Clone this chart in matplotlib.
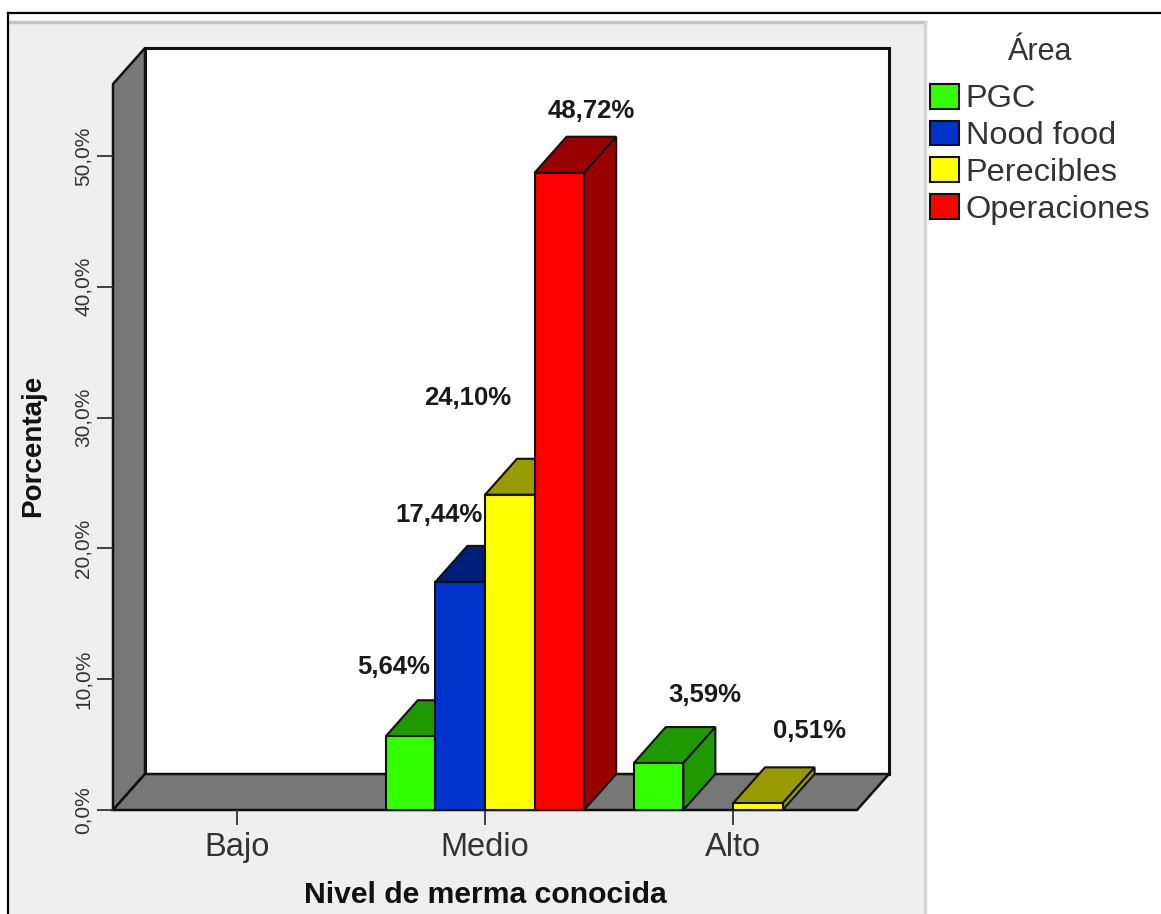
#!/usr/bin/python3

import matplotlib
matplotlib.use("Agg")
import matplotlib.pyplot as plt
from matplotlib.patches import Patch, Polygon, Rectangle

plt.rcParams['font.family'] = ['Liberation Sans', 'DejaVu Sans']

niveles = ["Bajo", "Medio", "Alto"]
areas = ["PGC", "Nood food", "Perecibles", "Operaciones"]
ticks_pct = [0, 10, 20, 30, 40, 50]
tick_labels = ["0,0%", "10,0%", "20,0%", "30,0%", "40,0%", "50,0%"]

pgc = [0, 5.64, 3.59]
nood_food = [0, 17.44, 0]
perecibles = [0, 24.10, 0.51]
operaciones = [0, 48.72, 0]

# label shift in pixels from the top centre of each bar
label_shift = {
    (0, 1): (-17, 69),
    (1, 1): (-21, 67),
    (2, 1): (-42, 97),
    (3, 1): (32, 62),
    (0, 2): (46, 68),
    (2, 2): (52, 72),
}

front = ["#33FF00", "#0033CC", "#FFFF00", "#FF0000"]
shade = ["#1F9900", "#001F7A", "#999900", "#990000"]
wall = "#777777"
panel = "#EFEFEF"
ink = "#333333"

W, H = 1161, 914
BAR_W = 0.2
DX = 0.129   # depth of the 3d box, category units
DY = 2.75    # depth of the 3d box, percent units
YTOP = 55.5

fig = plt.figure(figsize=(W / 100, H / 100), dpi=100, facecolor="white")

# grey chart panel and the outer frame lines, kept behind the axes
fig.add_artist(Rectangle((9 / W, 0), 916 / W, 1 - 22 / H, transform=fig.transFigure,
                         facecolor=panel, edgecolor="none", zorder=-5))
fig.add_artist(plt.Line2D([9 / W, 925 / W], [1 - 22 / H, 1 - 22 / H], color="#C4C4C4", lw=2.5, zorder=-4))
fig.add_artist(plt.Line2D([925 / W, 925 / W], [0, 1 - 22 / H], color="#D4D4D4", lw=2.5, zorder=-4))
fig.add_artist(plt.Line2D([8 / W, 1], [1 - 13 / H, 1 - 13 / H], color="black", lw=1.6, zorder=-3))
fig.add_artist(plt.Line2D([8 / W, 8 / W], [0, 1 - 13 / H], color="black", lw=1.6, zorder=-3))

ax = fig.add_axes([113 / W, (H - 810) / H, 744 / W, 726 / H])
ax.set_xlim(-0.5, 2.5)
ax.set_ylim(0, YTOP)
ax.patch.set_visible(False)
for s in ax.spines.values():
    s.set_visible(False)


def box(pts, color, lw=1.5, z=2):
    ax.add_patch(Polygon(pts, closed=True, facecolor=color, edgecolor="#111111",
                         lw=lw, clip_on=False, zorder=z, joinstyle="miter"))


# back wall, left wall, floor
x0, x1 = ax.get_xlim()
box([(x0 + DX, DY), (x1 + DX, DY), (x1 + DX, YTOP + DY), (x0 + DX, YTOP + DY)], "white", lw=2.2, z=1)
box([(x0, 0), (x0 + DX, DY), (x0 + DX, YTOP + DY), (x0, YTOP)], wall, lw=1.8, z=1.1)
box([(x0, 0), (x1, 0), (x1 + DX, DY), (x0 + DX, DY)], wall, lw=1.8, z=1.2)

series = [pgc, nood_food, perecibles, operaciones]
z = 3
for g in range(len(niveles)):
    for i, vals in enumerate(series):
        v = vals[g]
        if v == 0:
            continue
        left = g - 0.4 + i * BAR_W
        right = left + BAR_W
        box([(left, v), (right, v), (right + DX, v + DY), (left + DX, v + DY)], shade[i], z=z)
        box([(right, 0), (right + DX, DY), (right + DX, v + DY), (right, v)], shade[i], z=z)
        ax.bar(left, v, BAR_W, align="edge", color=front[i], edgecolor="#111111",
               lw=1.5, zorder=z + 0.5, clip_on=False)
        z += 1
        dx, dy = label_shift[(i, g)]
        ax.annotate(("%.2f" % v).replace(".", ",") + "%",
                    (left + BAR_W / 2, v), xytext=(dx, dy), textcoords="offset pixels",
                    ha="center", va="center", fontsize=18.5, fontweight="bold", color="#1A1A1A",
                    zorder=30, bbox=dict(facecolor="white", edgecolor="none", pad=1.0))

ax.set_xticks(range(len(niveles)))
ax.set_xticklabels(niveles, fontsize=23.5, color=ink)
ax.set_yticks(ticks_pct)
ax.set_yticklabels(tick_labels, fontsize=15, color=ink, rotation=90, va="center")
ax.tick_params(axis="x", length=11, width=1.3, color=ink, pad=5)
ax.tick_params(axis="y", length=11.5, width=1.3, color=ink, pad=3)

ax.set_xlabel("Nivel de merma conocida", fontsize=21.7, fontweight="bold", color="#111111", labelpad=0)
ax.xaxis.set_label_coords((485 - 113) / 744, -(895 - 810) / 726, transform=ax.transAxes)
ax.xaxis.label.set_va("center")
ax.set_ylabel("Porcentaje", fontsize=20, fontweight="bold", color="#111111")
ax.yaxis.set_label_coords((33 - 113) / 744, (810 - 446) / 726, transform=ax.transAxes)
ax.yaxis.label.set_va("center")

handles = [Patch(facecolor=c, edgecolor="#111111", lw=1.5) for c in front]
leg = fig.legend(handles, areas, title="Área", loc="upper left",
                 bbox_to_anchor=(930 / W, 1 - 37 / H), frameon=False, fontsize=23.4,
                 title_fontsize=22, handlelength=0.9, handleheight=0.8, handletextpad=0.2,
                 labelspacing=0.19, borderaxespad=0, borderpad=0)
leg._legend_box.sep = 12
for t in leg.get_texts():
    t.set_color(ink)
leg.get_title().set_color(ink)

fig.savefig("out.png", dpi=100)
